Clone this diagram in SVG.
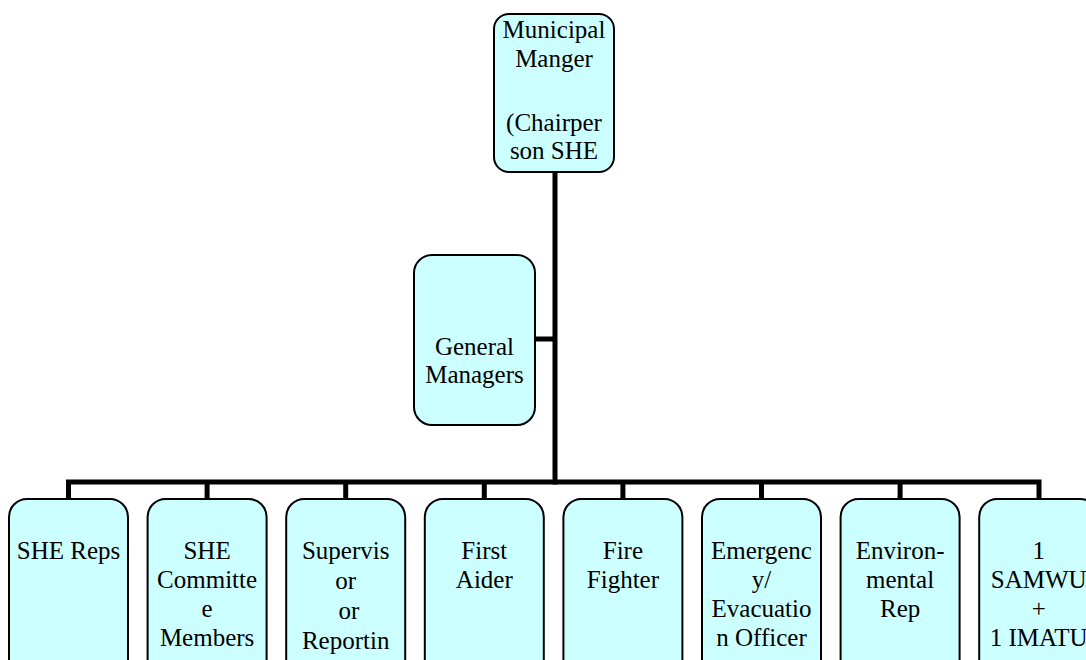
<svg xmlns="http://www.w3.org/2000/svg" width="1086" height="660" viewBox="0 0 1086 660">
<style>
.box{fill:#ccffff;stroke:#000;stroke-width:2}
.t{font-family:"Liberation Serif","Times New Roman",serif;font-size:25px;fill:#000;text-anchor:middle}
.c{stroke:#000;stroke-width:5;fill:none}
</style>
<rect width="1086" height="660" fill="#fff"/>
<g id="connectors">
<line class="c" x1="555" y1="172" x2="555" y2="484.5"/>
<line class="c" x1="535" y1="339" x2="555" y2="339"/>
<polyline class="c" points="68.5,499 68.5,482 1039,482 1039,499"/>
<line class="c" x1="207.1" y1="482" x2="207.1" y2="499"/>
<line class="c" x1="345.7" y1="482" x2="345.7" y2="499"/>
<line class="c" x1="484.3" y1="482" x2="484.3" y2="499"/>
<line class="c" x1="622.9" y1="482" x2="622.9" y2="499"/>
<line class="c" x1="761.5" y1="482" x2="761.5" y2="499"/>
<line class="c" x1="900.1" y1="482" x2="900.1" y2="499"/>
</g>
<g id="municipal-manager">
<rect class="box" x="494" y="14" width="120" height="158" rx="15"/>
<text class="t"><tspan x="554" y="38">Municipal</tspan><tspan x="554" y="67">Manger</tspan><tspan x="554" y="131">(Chairper</tspan><tspan x="554" y="159">son SHE</tspan></text>
</g>
<g id="general-managers">
<rect class="box" x="414" y="255" width="121" height="170" rx="18"/>
<text class="t"><tspan x="474.5" y="355">General</tspan><tspan x="474.5" y="383">Managers</tspan></text>
</g>
<g id="she-reps">
<rect class="box" x="9" y="499" width="119" height="180" rx="18"/>
<text class="t"><tspan x="68.5" y="559">SHE Reps</tspan></text>
</g>
<g id="she-committee">
<rect class="box" x="147.6" y="499" width="119" height="180" rx="18"/>
<text class="t"><tspan x="207.1" y="559">SHE</tspan><tspan x="207.1" y="588">Committe</tspan><tspan x="207.1" y="617">e</tspan><tspan x="207.1" y="646">Members</tspan></text>
</g>
<g id="supervisor">
<rect class="box" x="286.2" y="499" width="119" height="180" rx="18"/>
<text class="t"><tspan x="345.7" y="559">Supervis</tspan><tspan x="345.7" y="589">or</tspan><tspan x="349" y="619">or</tspan><tspan x="345.7" y="649">Reportin</tspan></text>
</g>
<g id="first-aider">
<rect class="box" x="424.8" y="499" width="119" height="180" rx="18"/>
<text class="t"><tspan x="484.3" y="559">First</tspan><tspan x="484.3" y="588">Aider</tspan></text>
</g>
<g id="fire-fighter">
<rect class="box" x="563.4" y="499" width="119" height="180" rx="18"/>
<text class="t"><tspan x="622.9" y="559">Fire</tspan><tspan x="622.9" y="588">Fighter</tspan></text>
</g>
<g id="emergency-officer">
<rect class="box" x="702" y="499" width="119" height="180" rx="18"/>
<text class="t"><tspan x="761.5" y="559">Emergenc</tspan><tspan x="761.5" y="588">y/</tspan><tspan x="761.5" y="617">Evacuatio</tspan><tspan x="761.5" y="646">n Officer</tspan></text>
</g>
<g id="environmental-rep">
<rect class="box" x="840.6" y="499" width="119" height="180" rx="18"/>
<text class="t"><tspan x="900.1" y="559">Environ-</tspan><tspan x="900.1" y="588">mental</tspan><tspan x="900.1" y="617">Rep</tspan></text>
</g>
<g id="unions">
<rect class="box" x="979.2" y="499" width="119" height="180" rx="18"/>
<text class="t"><tspan x="1038.7" y="559">1</tspan><tspan x="1038.7" y="588">SAMWU</tspan><tspan x="1038.7" y="617">+</tspan><tspan x="1038.7" y="646">1 IMATU</tspan></text>
</g>
</svg>
